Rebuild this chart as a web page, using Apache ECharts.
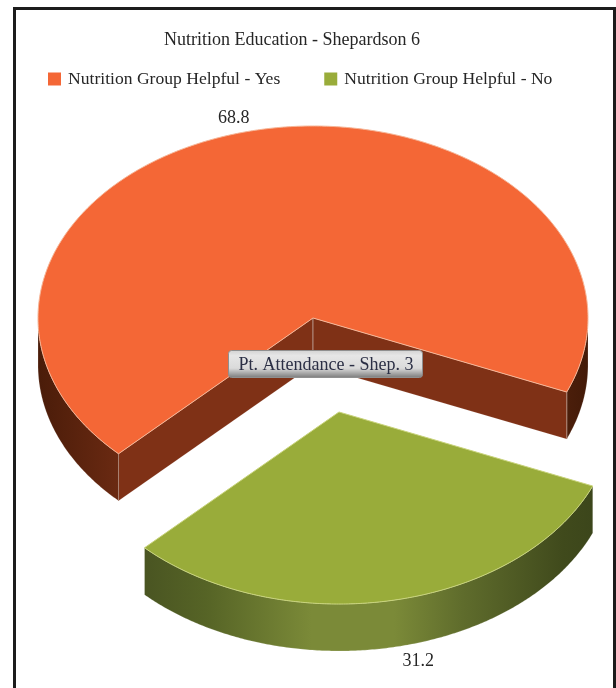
<!DOCTYPE html>
<html>
<head>
<meta charset="utf-8">
<style>html,body{margin:0;padding:0;background:#fff}#c{width:616px;height:688px;filter:blur(0.45px)}</style>
<script src="https://cdn.jsdelivr.net/npm/echarts@6/dist/echarts.min.js"></script>
</head>
<body>
<div id="c"></div>
<script>
const chartTitle = 'Nutrition Education - Shepardson 6';
const categories = ['Nutrition Group Helpful - Yes', 'Nutrition Group Helpful - No'];
const values = [68.8, 31.2];
const tooltipText = 'Pt. Attendance - Shep. 3';

const FONT = '"Liberation Serif","Times New Roman",serif';
const TEXT = '#262626';
const topColors = ['#f46736', '#99ac3a'];
const edgeColors = ['#f6b596', '#c9d47c'];
const wallColors = ['#7f3116', '#4d5a22'];
const seamColors = ['#a87f70', '#8a9560'];
const rimStops = [
  [[0, '#4a1c09'], [0.15, '#6b2a12'], [0.5, '#8a3a1c'], [0.93, '#52220d'], [1, '#431a08']],
  [[0, '#3d471c'], [0.15, '#4a5522'], [0.26, '#566426'], [0.45, '#7b8a38'], [0.6, '#7b8a38'], [0.725, '#5f6c2c'], [0.907, '#404a1c'], [1, '#39431a']]
];
const CX = 313, CY = 318, RX = 275, RY = 192, DEPTH = 47, START = 135;
const explode = [[0, 0], [26, 94]];
const labelShift = [[-26, -11], [26, 14 + DEPTH]];

const total = values.reduce((a, b) => a + b, 0);
function sliceAngles(i) {
  let a = START;
  for (let k = 0; k < i; k++) a += values[k] / total * 360;
  return [a, a + values[i] / total * 360];
}
function arcPts(cx, cy, a, b) {
  const n = Math.max(2, Math.ceil(Math.abs(b - a) * 2));
  const pts = [];
  for (let k = 0; k <= n; k++) {
    const t = (a + (b - a) * k / n) * Math.PI / 180;
    pts.push([cx + RX * Math.cos(t), cy + RY * Math.sin(t)]);
  }
  return pts;
}
function renderSlice(i, api) {
  const val = api.value(0);
  const [a0, a1] = sliceAngles(i);
  const cx = CX + explode[i][0], cy = CY + explode[i][1];
  const kids = [];
  const rimFill = new echarts.graphic.LinearGradient(cx - RX, 0, cx + RX, 0,
    rimStops[i].map(s => ({ offset: s[0], color: s[1] })), true);
  // outer rim: only the front half of the ellipse faces the viewer
  [[0, 180], [360, 540]].forEach(w => {
    const s = Math.max(a0, w[0]), e = Math.min(a1, w[1]);
    if (e > s) {
      const top = arcPts(cx, cy, s, e);
      const bot = top.slice().reverse().map(p => [p[0], p[1] + DEPTH]);
      kids.push({ type: 'polygon', shape: { points: top.concat(bot) },
        style: { fill: rimFill, stroke: 'rgba(255,255,255,0.18)', lineWidth: 1 } });
    }
  });
  // inner walls
  const wall = (deg) => {
    const p = arcPts(cx, cy, deg, deg)[0];
    kids.push({ type: 'polygon', shape: { points: [[cx, cy], p, [p[0], p[1] + DEPTH], [cx, cy + DEPTH]] },
      style: { fill: wallColors[i], stroke: 'rgba(255,255,255,0.1)', lineWidth: 1 } });
    kids.push({ type: 'line', shape: { x1: p[0], y1: p[1], x2: p[0], y2: p[1] + DEPTH },
      style: { stroke: seamColors[i], lineWidth: 1 } });
    kids.push({ type: 'line', shape: { x1: cx, y1: cy, x2: cx, y2: cy + DEPTH },
      style: { stroke: seamColors[i], lineWidth: 1 } });
  };
  const cosA = d => Math.cos(d * Math.PI / 180);
  if (cosA(a0) < 0) wall(a0);
  if (cosA(a1) > 0) wall(a1);
  // top face
  kids.push({ type: 'polygon', shape: { points: [[cx, cy]].concat(arcPts(cx, cy, a0, a1)) },
    style: { fill: topColors[i], stroke: edgeColors[i], lineWidth: 1 } });
  // value label
  const mid = (a0 + a1) / 2;
  const m = arcPts(cx, cy, mid, mid)[0];
  kids.push({ type: 'text', style: {
    text: String(val), x: m[0] + labelShift[i][0], y: m[1] + labelShift[i][1],
    fill: TEXT, font: '18px ' + FONT, align: 'center', verticalAlign: 'middle' } });
  return { type: 'group', children: kids };
}

const series = categories.map((name, i) => ({
  type: 'custom',
  name,
  coordinateSystem: 'none',
  silent: true,
  itemStyle: { color: topColors[i] },
  data: [[values[i]]],
  renderItem: (params, api) => renderSlice(i, api),
  z: 2 + i
}));

const chart = echarts.init(document.getElementById('c'), null, { renderer: 'canvas' });
chart.setOption({
  animation: false,
  backgroundColor: '#fff',
  title: { text: chartTitle, left: 159, top: 26,
    textStyle: { fontFamily: FONT, fontSize: 18, fontWeight: 'normal', color: TEXT } },
  legend: {
    data: categories.map(name => ({ name, icon: 'rect' })),
    left: 43, top: 65, itemWidth: 13, itemHeight: 13, itemGap: 44,
    textStyle: { fontFamily: FONT, fontSize: 17.6, color: TEXT, padding: [0, 0, 0, 2] },
    selectedMode: false
  },
  series,
  graphic: [
    { type: 'rect', z: 50, shape: { x: 14.5, y: 8.5, width: 600, height: 700 },
      style: { fill: 'none', stroke: '#1c1c1c', lineWidth: 3 }, silent: true },
    { type: 'rect', z: 100, shape: { x: 228.5, y: 350.5, width: 194, height: 27, r: 3 }, silent: true,
      style: { stroke: '#8f8f8f', lineWidth: 1,
        fill: new echarts.graphic.LinearGradient(0, 0, 0, 1, [
          { offset: 0, color: '#d2d2d2' }, { offset: 0.2, color: '#e6e6e6' },
          { offset: 0.65, color: '#dadada' }, { offset: 1, color: '#787878' }]) } },
    { type: 'text', z: 101, silent: true, style: { text: tooltipText, x: 326, y: 365,
        font: '18px ' + FONT, fill: '#2b2f45', align: 'center', verticalAlign: 'middle' } }
  ]
});
</script>
</body>
</html>
